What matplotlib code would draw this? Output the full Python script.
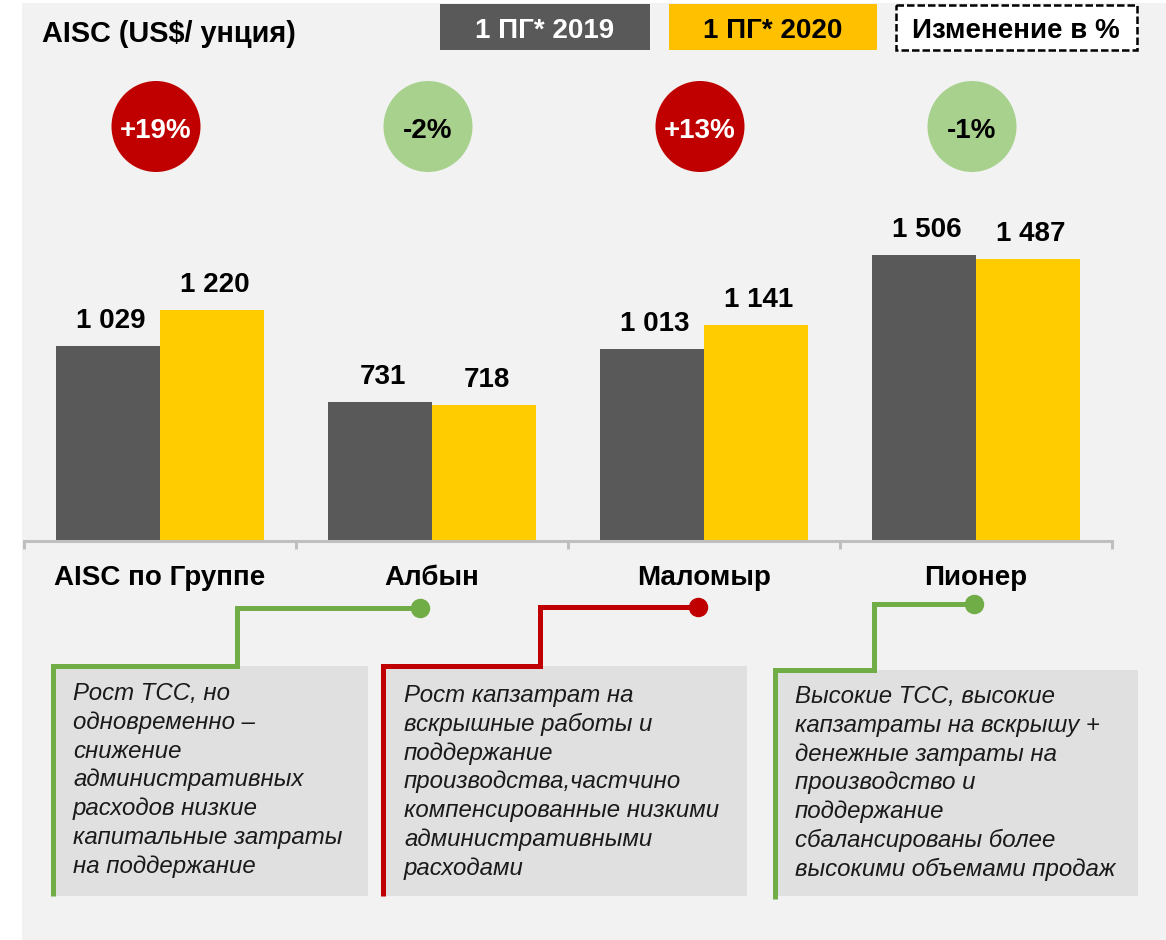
import matplotlib
matplotlib.use("Agg")
import matplotlib.pyplot as plt
from matplotlib.patches import Rectangle, Ellipse
import numpy as np

plt.rcParams['font.family'] = ['Liberation Sans', 'DejaVu Sans']

# ========================= Data =========================
title = 'AISC (US$/ унция)'
categories = ['AISC по Группе', 'Албын', 'Маломыр', 'Пионер']
series_names = ['1 ПГ* 2019', '1 ПГ* 2020']
change_title = 'Изменение в %'
aisc_2019 = [1029, 731, 1013, 1506]
aisc_2020 = [1220, 718, 1141, 1487]

note_albyn = ['Рост ТСС, но', 'одновременно –', 'снижение', 'административных',
              'расходов низкие', 'капитальные затраты', 'на поддержание']
note_malomyr = ['Рост капзатрат на', 'вскрышные работы и', 'поддержание',
                'производства,частчино', 'компенсированные низкими',
                'административными', 'расходами']
note_pioneer = ['Высокие ТСС, высокие', 'капзатраты на вскрышу +',
                'денежные затраты на', 'производство и', 'поддержание',
                'сбалансированы более', 'высокими объемами продаж']

# ========================= Style =========================
W, H = 1166, 940
DARK = '#595959'
YELLOW = '#FFCC00'
LEGEND_YELLOW = '#FFC000'
RED = '#C00000'
LIGHT_GREEN = '#A9D18E'
GREEN = '#70AD47'
BG = '#F2F2F2'
NOTE_BG = '#E0E0E0'
AXIS_GREY = '#BFBFBF'

fig = plt.figure(figsize=(W / 100, H / 100), dpi=100, facecolor='white')

# overlay in pixel coordinates for the decorations
ov = fig.add_axes([0, 0, 1, 1])
ov.set_xlim(0, W)
ov.set_ylim(H, 0)
ov.axis('off')
ov.set_zorder(0)
ov.add_patch(Rectangle((22, 3), W - 22, H - 3, fc=BG, ec='none'))

# title and legend
ov.text(42, 42, title, fontsize=20.8, fontweight='bold', va='baseline')
ov.add_patch(Rectangle((440, 4), 210, 46, fc=DARK, ec='none'))
ov.text(545, 38, series_names[0], fontsize=20, fontweight='bold', color='white',
        ha='center', va='baseline')
ov.add_patch(Rectangle((669, 4), 208, 46, fc=LEGEND_YELLOW, ec='none'))
ov.text(773, 38, series_names[1], fontsize=20, fontweight='bold', color='black',
        ha='center', va='baseline')
ov.add_patch(Rectangle((896, 5), 241, 45, fc='white', ec='black', lw=1.8,
                       ls=(0, (3, 1.2))))
ov.text(1016, 38, change_title, fontsize=20, fontweight='bold', color='black',
        ha='center', va='baseline')

# ========================= Bars =========================
ax = fig.add_axes([24 / W, (H - 541) / H, 1088 / W, 481 / H])
ax.set_zorder(2)
ax.patch.set_visible(False)
x = np.arange(len(categories))
w = 0.383
ax.bar(x - w / 2, aisc_2019, w, color=DARK)
ax.bar(x + w / 2, aisc_2020, w, color=YELLOW)
ax.set_xlim(-0.5, len(categories) - 0.5)
ax.set_ylim(0, 2537)

for xs, vals in [(x - w / 2, aisc_2019), (x + w / 2, aisc_2020)]:
    for xi, v in zip(xs, vals):
        ax.annotate(f'{v:,}'.replace(',', ' '), (xi, v), xytext=(2, 13),
                    textcoords='offset points', ha='center', va='baseline',
                    fontsize=20, fontweight='bold')

for i, cat in enumerate(categories):
    ax.annotate(cat, (i, 0), xytext=(0, -31.7), textcoords='offset points',
                ha='center', va='baseline', fontsize=20, fontweight='bold',
                annotation_clip=False)

for s in ['top', 'right', 'left']:
    ax.spines[s].set_visible(False)
ax.spines['bottom'].set_color(AXIS_GREY)
ax.spines['bottom'].set_linewidth(2.2)
ax.set_xticks(np.arange(len(categories) + 1) - 0.5)
ax.set_yticks([])
ax.tick_params(axis='x', direction='out', length=6, width=2.2, color=AXIS_GREY,
               labelbottom=False)

# ========================= Change circles =========================
for i, (a, b) in enumerate(zip(aisc_2019, aisc_2020)):
    pct = int(round((b - a) / a * 100))
    cx = ax.transData.transform((i, 0))[0] - 4
    ov.add_patch(Ellipse((cx, 126.5), 89, 91, fc=RED if pct > 0 else LIGHT_GREEN,
                         ec='none'))
    ov.text(cx, 138, f'{pct:+d}%', fontsize=20, fontweight='bold',
            color='white' if pct > 0 else 'black', ha='center', va='baseline')

# ========================= Notes =========================
notes = [
    (note_albyn, GREEN, dict(left=53, top=666, right=368, bottom=896, line_bottom=896,
                             elbow=237, hook=608, dot=420, tx=73, ty=700)),
    (note_malomyr, RED, dict(left=383, top=666, right=747, bottom=896, line_bottom=896,
                             elbow=540, hook=607, dot=698, tx=404, ty=702)),
    (note_pioneer, GREEN, dict(left=775, top=670, right=1138, bottom=896, line_bottom=899,
                               elbow=874, hook=604, dot=974, tx=795, ty=703)),
]
for lines, col, g in notes:
    ov.add_patch(Rectangle((g['left'], g['top']), g['right'] - g['left'],
                           g['bottom'] - g['top'], fc=NOTE_BG, ec='none'))
    px = [g['left'], g['left'], g['elbow'], g['elbow'], g['dot']]
    py = [g['line_bottom'], g['top'], g['top'], g['hook'], g['hook']]
    ov.plot(px, py, color=col, lw=3.6, solid_joinstyle='miter', solid_capstyle='butt')
    ov.plot([g['dot']], [g['hook']], 'o', color=col, markersize=13)
    for k, line in enumerate(lines):
        ov.text(g['tx'], g['ty'] + k * 28.8, line, fontsize=17.3, style='italic',
                va='baseline', color='#1A1A1A')

fig.savefig('out.png', dpi=100)
